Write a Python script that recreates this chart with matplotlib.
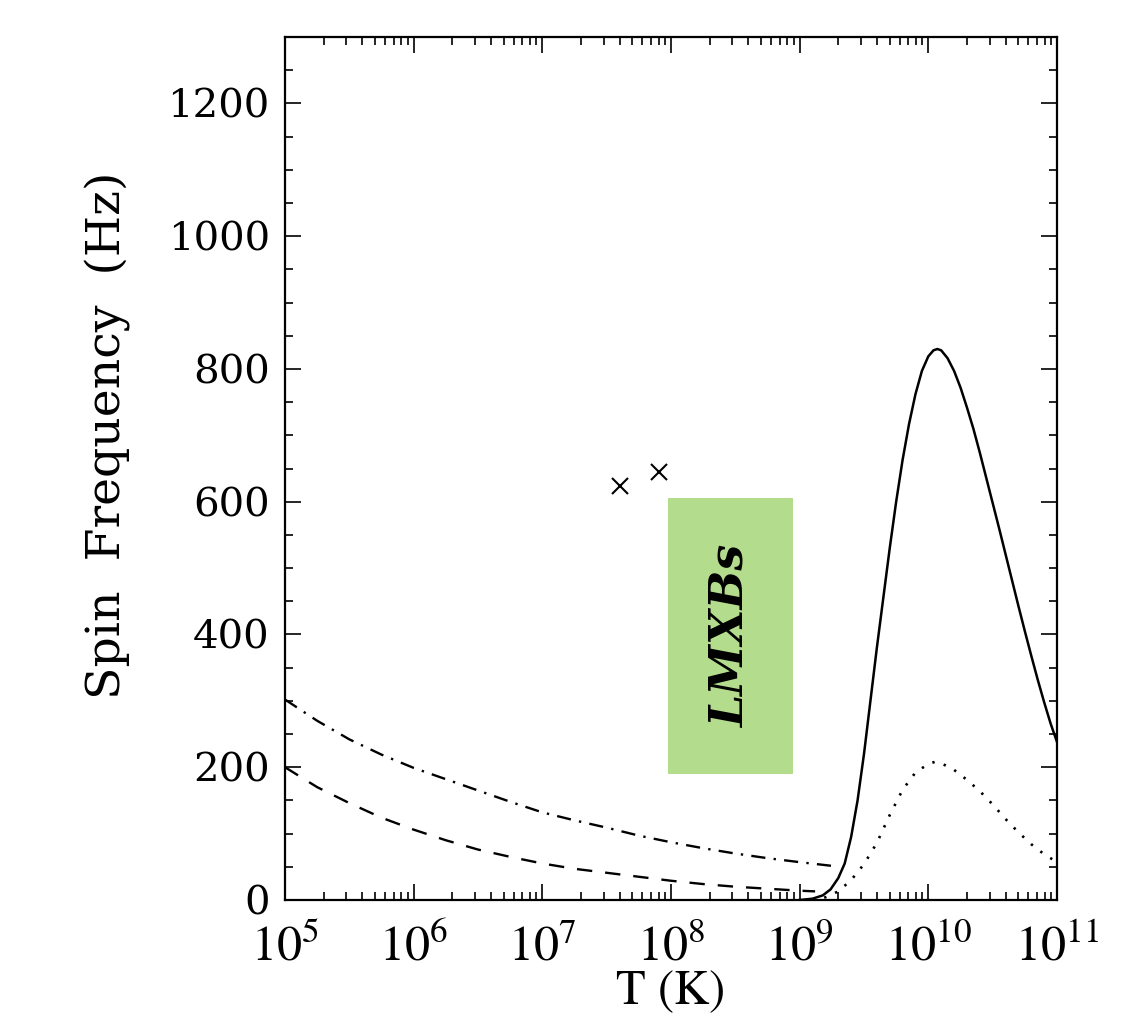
import numpy as np
import matplotlib
matplotlib.use("Agg")
import matplotlib.pyplot as plt
from matplotlib.ticker import FixedLocator, NullFormatter
from matplotlib.patches import Rectangle

# ---- data ----
# solid curve: log10(T) and spin frequency (Hz)
solid_logT = [9.00, 9.10, 9.18, 9.24, 9.30, 9.35, 9.40, 9.45, 9.50, 9.55, 9.60, 9.65,
              9.70, 9.75, 9.80, 9.85, 9.90, 9.95, 10.00, 10.04, 10.07, 10.10, 10.15,
              10.20, 10.25, 10.30, 10.35, 10.40, 10.45, 10.50, 10.55, 10.60, 10.65,
              10.70, 10.75, 10.80, 10.85, 10.90, 10.95, 11.00]
solid_f = [0, 2, 7, 16, 33, 55, 95, 150, 220, 300, 380, 455,
           530, 600, 663, 717, 762, 797, 819, 828, 830, 828, 816,
           797, 772, 742, 710, 674, 636, 598, 560, 521, 482,
           443, 405, 368, 332, 298, 266, 238]

# dotted curve
dotted_logT = [9.10, 9.20, 9.30, 9.40, 9.50, 9.60, 9.70, 9.80, 9.90, 10.00, 10.05,
               10.10, 10.20, 10.30, 10.40, 10.50, 10.60, 10.70, 10.80, 10.90, 11.00]
dotted_f = [0, 4, 13, 30, 54, 86, 128, 166, 192, 205, 208,
            206, 196, 181, 164, 144, 122, 102, 84, 69, 57]

# dashed curve
dashed_logT = [5.0, 5.25, 5.5, 5.75, 6.0, 6.25, 6.5, 6.75, 7.0, 7.25, 7.5, 7.75,
               8.0, 8.25, 8.5, 8.75, 9.0, 9.12]
dashed_f = [200, 170, 146, 124, 106, 90, 76, 65, 55, 47, 41, 35,
            29, 24, 20, 17, 14, 13]

# dash-dot curve
dashdot_logT = [5.0, 5.25, 5.5, 5.75, 6.0, 6.25, 6.5, 6.75, 7.0, 7.25, 7.5, 7.75,
                8.0, 8.25, 8.5, 8.75, 9.0, 9.27]
dashdot_f = [302, 270, 242, 219, 199, 182, 165, 148, 132, 120, 109, 97,
             87, 78, 70, 63, 57, 51]

# crosses
cross_T = [4.0e7, 8.0e7]
cross_f = [624, 645]

# LMXB box
lmxb_T = [9.5e7, 8.85e8]
lmxb_f = [190, 605]
lmxb_label = "LMXBs"

x_ticks = [1e5, 1e6, 1e7, 1e8, 1e9, 1e10, 1e11]
x_ticklabels = [r"$10^{5}$", r"$10^{6}$", r"$10^{7}$", r"$10^{8}$",
                r"$10^{9}$", r"$10^{10}$", r"$10^{11}$"]
y_ticks = [0, 200, 400, 600, 800, 1000, 1200]

# ---- figure ----
plt.rcParams["mathtext.fontset"] = "stix"
fig = plt.figure(figsize=(11.41, 10.35), dpi=100)
W, H = 1141, 1035
ax = fig.add_axes([285 / W, 1 - 900 / H, (1057 - 285) / W, (900 - 37) / H])

ax.set_xscale("log")
ax.set_xlim(1e5, 1e11)
ax.set_ylim(0, 1300)

to_T = lambda arr: 10.0 ** np.asarray(arr)

ax.plot(to_T(solid_logT), solid_f, color="black", lw=1.8, solid_joinstyle="round")
ax.plot(to_T(dotted_logT), dotted_f, color="black", lw=1.9, linestyle=(0, (0.9, 3.6)))
ax.plot(to_T(dashed_logT), dashed_f, color="black", lw=1.7, linestyle=(0, (6.5, 5.5)))
ax.plot(to_T(dashdot_logT), dashdot_f, color="black", lw=1.7,
        linestyle=(0, (6, 3.5, 1, 3.5)))

ax.plot(cross_T, cross_f, linestyle="none", marker="x", color="black",
        markersize=11, markeredgewidth=1.5)

rect = Rectangle((lmxb_T[0], lmxb_f[0]), lmxb_T[1] - lmxb_T[0], lmxb_f[1] - lmxb_f[0],
                 facecolor="#b3dd8d", edgecolor="none", zorder=1)
ax.add_patch(rect)
ax.text(np.sqrt(lmxb_T[0] * lmxb_T[1]), (lmxb_f[0] + lmxb_f[1]) / 2, lmxb_label,
        rotation=90, ha="center", va="center", fontsize=33,
        family="DejaVu Serif", weight="bold", style="italic", zorder=3)

# ticks
ax.xaxis.set_major_locator(FixedLocator(x_ticks))
ax.set_xticklabels(x_ticklabels, fontsize=36)
minors = [m * 10.0 ** e for e in range(5, 11) for m in range(2, 10)]
ax.xaxis.set_minor_locator(FixedLocator(minors))
ax.xaxis.set_minor_formatter(NullFormatter())
ax.yaxis.set_major_locator(FixedLocator(y_ticks))
ax.yaxis.set_minor_locator(FixedLocator(list(range(50, 1300, 50))))
for lab in ax.get_yticklabels():
    lab.set_family("DejaVu Serif")
    lab.set_fontsize(29)

ax.tick_params(which="both", direction="in", top=True, right=True, width=1.2)
ax.tick_params(which="major", length=11.5)
ax.tick_params(which="minor", length=5.8)
ax.tick_params(axis="x", which="major", pad=16)
ax.tick_params(axis="y", which="major", pad=11)
for s in ax.spines.values():
    s.set_linewidth(1.6)

ax.set_xlabel("T (K)", fontsize=35, family="STIXGeneral", labelpad=0)
ax.set_ylabel("Spin  Frequency  (Hz)", fontsize=34, family="DejaVu Serif")
ax.yaxis.set_label_coords(-0.200, (900 - 435) / (900 - 37))

fig.savefig("out.png", dpi=100, facecolor="white")
